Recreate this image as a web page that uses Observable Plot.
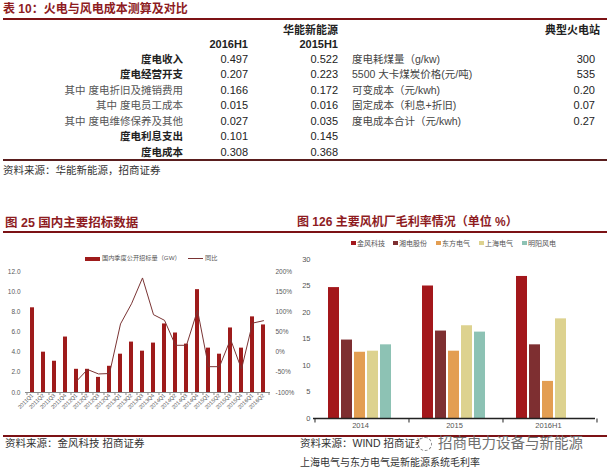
<!DOCTYPE html>
<html><head><meta charset="utf-8">
<script src="https://cdn.jsdelivr.net/npm/d3@7"></script>
<script src="https://cdn.jsdelivr.net/npm/@observablehq/plot@0.6"></script>
<style>
html,body{margin:0;padding:0;background:#fff}
body{width:607px;height:470px;position:relative;overflow:hidden;font-family:"Liberation Sans","Noto Sans CJK SC",sans-serif}
.a{position:absolute;white-space:nowrap}
</style></head><body>
<script>
// ---------- data ----------
const tableTitle = "表 10：火电与风电成本测算及对比";
const groupHeader = "华能新能源";
const thermalHeader = "典型火电站";
const periods = ["2016H1", "2015H1"];
const costLabels = ["度电收入","度电经营开支","其中 度电折旧及摊销费用","其中 度电员工成本","其中 度电维修保养及其他","度电利息支出","度电成本"];
const cost2016H1 = [0.497,0.207,0.166,0.015,0.027,0.101,0.308];
const cost2015H1 = [0.522,0.223,0.172,0.016,0.035,0.145,0.368];
const thermalLabels = ["度电耗煤量（g/kw)","5500 大卡煤炭价格(元/吨)","可变成本（元/kwh)","固定成本（利息+折旧)","度电成本合计（元/kwh)"];
const thermalValues = ["300","535","0.20","0.07","0.27"];
const tableSource = "资料来源：华能新能源，招商证券";

const leftTitle = "图 25  国内主要招标数据";
const quarters = ["2011Q1","2011Q2","2011Q3","2011Q4","2012Q1","2012Q2","2012Q3","2012Q4","2013Q1","2013Q2","2013Q3","2013Q4","2014Q1","2014Q2","2014Q3","2014Q4","2015Q1","2015Q2","2015Q3","2015Q4","2016Q1","2016Q2"];
const bidVolume = [8.4,4.0,3.1,5.5,2.3,2.3,1.5,2.6,3.8,5.0,4.1,4.9,6.8,5.9,4.8,10.2,4.4,3.8,6.4,4.4,7.5,6.7];
const yoyQuarters = quarters.slice(4);
const yoyPct = [-72,-43,-54,-53,70,120,184,93,79,17,17,104,-36,-36,32,-42,72,78];
const leftLegend = ["国内季度公开招标量（GW）","同比"];
const leftTicks = [0,2,4,6,8,10,12];
const rightPctTicks = [-100,-50,0,50,100,150,200];
const leftSource = "资料来源：金风科技 招商证券";

const rightTitle = "图 126  主要风机厂毛利率情况（单位 %）";
const years = ["2014","2015","2016H1"];
const makers = ["金风科技","湘电股份","东方电气","上海电气","明阳风电"];
const margin2014 = [24.7,14.8,12.5,12.7,13.9];
const margin2015 = [25.0,16.5,12.7,17.5,16.3];
const margin2016H1 = [26.8,13.9,7.0,18.8];
const makerColors = ["#a3171b","#7e2f31","#e39e52","#ddd28f","#8dc2b4"];
const marginTicks = [0,5,10,15,20,25,30];
const rightSource = "资料来源：WIND 招商证券";
const watermark = "招商电力设备与新能源";
const rightNote = "上海电气与东方电气是新能源系统毛利率";

// ---------- helpers ----------
const W = 607;
const root = document.body;
function txt(s, x, cy, o = {}) {
  const fs = o.fs || 11;
  const d = document.createElement("div");
  d.className = "a";
  d.textContent = s;
  d.style.fontSize = fs + "px";
  d.style.lineHeight = fs + "px";
  d.style.top = (cy - fs / 2) + "px";
  if (o.align === "right") d.style.right = (W - x) + "px";
  else d.style.left = x + "px";
  d.style.color = o.color || "#222";
  if (o.bold) d.style.fontWeight = "bold";
  root.appendChild(d);
  return d;
}
function box(x, y, w, h, color) {
  const d = document.createElement("div");
  d.className = "a";
  Object.assign(d.style, {left: x + "px", top: y + "px", width: w + "px", height: h + "px", background: color});
  root.appendChild(d);
  return d;
}
const titleRed = "#8e1c1f";
const ruleRed = "#7c1215";

// ---------- table ----------
txt(tableTitle, 3, 9, {fs: 12, bold: true, color: titleRed});
box(3, 18, 604, 2, ruleRed);
txt(groupHeader, 338, 30.5, {fs: 11, bold: true, align: "right"});
txt(thermalHeader, 600, 30.5, {fs: 11, bold: true, align: "right"});
txt(periods[0], 248, 44.5, {fs: 11, bold: true, align: "right"});
txt(periods[1], 338, 44.5, {fs: 11, bold: true, align: "right"});
const rowY = i => 59 + i * 15.5;
costLabels.forEach((l, i) => {
  const sub = l.startsWith("其中");
  txt(l, 183, rowY(i), {fs: 10.5, bold: !sub, align: "right", color: sub ? "#555" : "#222"});
  txt(cost2016H1[i].toFixed(3), 248, rowY(i), {fs: 11, align: "right"});
  txt(cost2015H1[i].toFixed(3), 338, rowY(i), {fs: 11, align: "right"});
});
thermalLabels.forEach((l, i) => {
  txt(l, 352, rowY(i), {fs: 10.5, color: "#444"});
  txt(thermalValues[i], 595, rowY(i), {fs: 11, align: "right"});
});
box(3, 159, 604, 1.5, "#5a1e1e");
txt(tableSource, 3, 170, {fs: 10.5, color: "#333"});

// ---------- left chart ----------
txt(leftTitle, 5, 223, {fs: 12.5, bold: true, color: titleRed});
box(3, 231, 297, 2, ruleRed);
box(85, 256.5, 15, 4, "#9e1b1b");
txt(leftLegend[0], 102, 258.5, {fs: 6.2, color: "#555"});
box(188, 258, 15, 1, "#7a3434");
txt(leftLegend[1], 205, 258.5, {fs: 6.2, color: "#555"});

const bars = quarters.map((q, i) => ({q, v: bidVolume[i]}));
const yoy = yoyQuarters.map((q, i) => ({q, v: yoyPct[i]}));
const pctToY = p => (p + 100) / 25;
const leftW = 300, leftML = 25, leftMR = 30;
const step = (leftW - leftML - leftMR) / (quarters.length - 0.62 + 0.8);
const leftPlot = Plot.plot({
  width: leftW, height: 205,
  marginLeft: leftML, marginRight: leftMR, marginTop: 39, marginBottom: 45,
  style: {fontFamily: "Liberation Sans, sans-serif", fontSize: "6.5px", color: "#595959", background: "transparent"},
  x: {domain: quarters, paddingInner: 0.62, paddingOuter: 0.4, label: null, axis: null},
  y: {domain: [0, 12], label: null, axis: null},
  marks: [
    Plot.barY(bars, {x: "q", y: "v", fill: "#9e1b1b"}),
    Plot.line(yoy, {x: "q", y: d => pctToY(d.v), stroke: "#7a3434", strokeWidth: 1}),
    Plot.ruleY([0], {stroke: "#8a8a8a"}),
    Plot.axisY(leftTicks, {anchor: "left", tickSize: 0, tickPadding: 5, tickFormat: d => d.toFixed(1), label: null}),
    Plot.axisY(rightPctTicks.map(pctToY), {anchor: "right", tickSize: 0, tickPadding: 5, tickFormat: d => Math.round(d * 25 - 100) + "%", label: null}),
    Plot.axisX({tickSize: 0, tickRotate: -45, fontSize: 5.5, tickPadding: 2, label: null}),
    Plot.axisX({text: null, tickSize: 3, stroke: "#8a8a8a", dx: -step / 2}),
    Plot.axisX([quarters[quarters.length - 1]], {text: null, tickSize: 3, stroke: "#8a8a8a", dx: step / 2})
  ]
});
const lw = document.createElement("div");
lw.className = "a"; lw.style.left = "0px"; lw.style.top = "232px";
lw.appendChild(leftPlot); root.appendChild(lw);

box(3, 435, 297, 2, ruleRed);
txt(leftSource, 5, 443, {fs: 10.5, color: "#333"});

// ---------- right chart ----------
txt(rightTitle, 297, 222, {fs: 12, bold: true, color: titleRed});
box(300, 231, 307, 2, ruleRed);
const legX = [351, 393, 436, 479, 522];
makers.forEach((m, i) => {
  box(legX[i], 240.5, 4.5, 4.5, makerColors[i]);
  txt(m, legX[i] + 6, 243, {fs: 7, color: "#555"});
});

const marginRows = [];
[margin2014, margin2015, margin2016H1].forEach((arr, j) => arr.forEach((v, i) => marginRows.push({year: years[j], maker: makers[i], v})));
const rML = 13, rMR = 12, rMT = 9, rMB = 17, rH = 185;
const facetW = (307 - rML - rMR) / years.length;
const pIn = 0.143, pOut = 0.93;
const bStep = facetW / (makers.length - pIn + 2 * pOut);
const firstCenter = bStep * pOut + bStep * (1 - pIn) / 2;
const tickUnits = 4 / ((rH - rMT - rMB) / 30);
const tickRows = years.map(y => ({year: y, off: -firstCenter})).concat([{year: years[years.length - 1], off: facetW - firstCenter}]);
const rightPlot = Plot.plot({
  width: 307, height: rH,
  marginLeft: rML, marginRight: rMR, marginTop: rMT, marginBottom: rMB,
  style: {fontFamily: "Liberation Sans, sans-serif", fontSize: "7.5px", color: "#555", background: "transparent"},
  fx: {domain: years, padding: 0, label: null, axis: null},
  x: {domain: makers, paddingInner: pIn, paddingOuter: pOut, axis: null},
  y: {domain: [0, 30], label: null, axis: null},
  color: {domain: makers, range: makerColors},
  marks: [
    Plot.barY(marginRows, {fx: "year", x: "maker", y: "v", fill: "maker"}),
    Plot.ruleY([0], {stroke: "#222", strokeWidth: 1.3}),
    ...tickRows.map(t => Plot.link([t], {fx: "year", x1: () => makers[0], x2: () => makers[0], y1: () => 0, y2: () => -tickUnits, dx: t.off, stroke: "#222"})),
    Plot.text(marginTicks, {fx: () => years[0], y: d => d, text: d => String(d), frameAnchor: "left", textAnchor: "end", dx: -3, fill: "#555"}),
    Plot.text(years, {fx: d => d, text: d => d, frameAnchor: "bottom", dy: 9, fill: "#555"})
  ]
});
const rw = document.createElement("div");
rw.className = "a"; rw.style.left = "300px"; rw.style.top = "250px";
rw.appendChild(rightPlot); root.appendChild(rw);

box(300, 435, 307, 2, ruleRed);
txt(rightSource, 300, 443, {fs: 10.5, color: "#333"});
const circ = box(418, 437, 12, 12, "#fff");
circ.style.border = "1px dashed #888"; circ.style.borderRadius = "50%";
txt(watermark, 438, 443, {fs: 14.5, color: "#6f6f6f"});
txt(rightNote, 300, 463, {fs: 10, color: "#333"});
</script>
</body></html>
